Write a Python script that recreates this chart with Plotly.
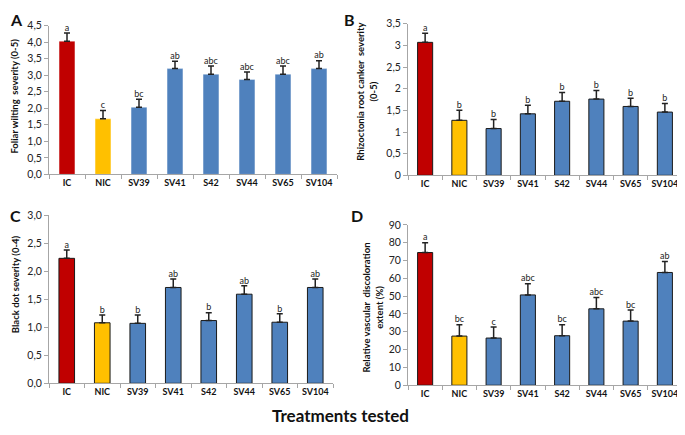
import plotly.graph_objects as go

treatments = ["IC", "NIC", "SV39", "SV41", "S42", "SV44", "SV65", "SV104"]
bar_colors = ["#C00000", "#FFC000"] + ["#4F81BD"] * 6

# A - foliar wilting severity (0-5)
wilt_mean = [4.03, 1.68, 2.03, 3.20, 3.03, 2.87, 3.03, 3.20]
wilt_err = [0.25, 0.25, 0.24, 0.22, 0.25, 0.23, 0.25, 0.24]
wilt_letters = ["a", "c", "bc", "ab", "abc", "abc", "abc", "ab"]

# B - rhizoctonia root canker severity (0-5)
canker_mean = [3.07, 1.27, 1.08, 1.42, 1.71, 1.76, 1.59, 1.46]
canker_err = [0.21, 0.23, 0.21, 0.20, 0.20, 0.20, 0.19, 0.20]
canker_letters = ["a", "b", "b", "b", "b", "b", "b", "b"]

# C - black dot severity (0-4)
dot_mean = [2.23, 1.08, 1.07, 1.71, 1.12, 1.59, 1.09, 1.71]
dot_err = [0.15, 0.14, 0.15, 0.15, 0.14, 0.15, 0.15, 0.15]
dot_letters = ["a", "b", "b", "ab", "b", "ab", "b", "ab"]

# D - relative vascular discoloration extent (%)
vasc_mean = [74.5, 27.6, 26.5, 50.7, 27.8, 42.9, 36.0, 63.3]
vasc_err = [5.5, 6.4, 6.2, 6.3, 6.2, 6.4, 6.2, 6.2]
vasc_letters = ["a", "bc", "c", "abc", "bc", "abc", "bc", "ab"]

FONT = "Lato, Open Sans, sans-serif"
AXIS_GREY = "#A6A6A6"

# the page body has an 8px margin, so the figure is a bit smaller
# and everything is placed in window pixels then converted
OFF = 8
W, H = 685 - OFF, 435 - OFF


def px(x):
    return (x - OFF) / W


def py(y):
    return 1 - (y - OFF) / H


panels = [
    # (means, errs, letters, axis suffix, outline)
    (wilt_mean, wilt_err, wilt_letters, "", "rgba(255,255,255,0.35)"),
    (canker_mean, canker_err, canker_letters, "2", "#1A1A1A"),
    (dot_mean, dot_err, dot_letters, "3", "#1A1A1A"),
    (vasc_mean, vasc_err, vasc_letters, "4", "#1A1A1A"),
]

fig = go.Figure()
for means, errs, letters, ax, outline in panels:
    fig.add_trace(
        go.Bar(
            x=treatments,
            y=means,
            width=0.44,
            marker=dict(color=bar_colors, line=dict(color=outline, width=1)),
            error_y=dict(
                type="data",
                array=errs,
                arrayminus=[0] * len(errs),
                symmetric=False,
                color="#222222",
                thickness=1.5,
                width=3,
            ),
            xaxis="x" + ax,
            yaxis="y" + ax,
            showlegend=False,
        )
    )
    fig.add_trace(
        go.Scatter(
            x=treatments,
            y=[m + e for m, e in zip(means, errs)],
            mode="text",
            text=letters,
            textposition="top center",
            textfont=dict(family=FONT, size=9, color="#222222"),
            xaxis="x" + ax,
            yaxis="y" + ax,
            showlegend=False,
            cliponaxis=False,
        )
    )

xaxis_style = dict(
    type="category",
    showline=True,
    linecolor=AXIS_GREY,
    linewidth=1,
    ticks="outside",
    tickson="boundaries",
    ticklen=4,
    tickcolor=AXIS_GREY,
    tickangle=0,
    tickfont=dict(family=FONT, size=9, color="#111111", weight="bold"),
    showgrid=False,
    zeroline=False,
    fixedrange=True,
)
yaxis_style = dict(
    showline=True,
    linecolor=AXIS_GREY,
    linewidth=1,
    ticks="outside",
    ticklen=4,
    tickcolor=AXIS_GREY,
    tickfont=dict(family=FONT, size=10.5, color="#222222"),
    showgrid=False,
    zeroline=False,
)

fig.update_layout(
    width=W,
    height=H,
    margin=dict(l=0, r=0, t=0, b=0),
    paper_bgcolor="white",
    plot_bgcolor="white",
    separators=",.",
    xaxis=dict(xaxis_style, domain=[px(49), px(337)], anchor="y"),
    yaxis=dict(yaxis_style, domain=[py(173), py(20)], range=[0, 4.5],
               dtick=0.5, tickformat=".1f", anchor="x"),
    xaxis2=dict(xaxis_style, domain=[px(408), px(682)], anchor="y2"),
    yaxis2=dict(yaxis_style, domain=[py(174), py(18)], range=[0, 3.5],
                dtick=0.5, anchor="x2"),
    xaxis3=dict(xaxis_style, domain=[px(49), px(333)], anchor="y3"),
    yaxis3=dict(yaxis_style, domain=[py(388), py(215)], range=[0, 3.0],
                dtick=0.5, tickformat=".1f", anchor="x3"),
    xaxis4=dict(xaxis_style, domain=[px(408), px(682)], anchor="y4"),
    yaxis4=dict(yaxis_style, domain=[py(390), py(225)], range=[0, 90],
                dtick=10, anchor="x4"),
)

# panel letters
for label, x, y in [("A", 8, 2), ("B", 342, 2), ("C", 8, 204), ("D", 349, 203)]:
    fig.add_annotation(
        text=label, x=px(x), y=py(y), xref="paper", yref="paper",
        xanchor="left", yanchor="top", showarrow=False,
        font=dict(family=FONT, size=16, color="#111111", weight="bold"),
    )

# y axis titles
for title, x, y in [
    ("Foliar wilting  severity (0-5)", 15, 93),
    ("Rhizoctonia root canker  severity<br>(0-5)", 367, 88),
    ("Black dot severity (0-4)", 15, 286),
    ("Relative vascular  discoloration<br>extent (%)", 373, 310),
]:
    fig.add_annotation(
        text=title, x=px(x), y=py(y), xref="paper", yref="paper",
        xanchor="center", yanchor="middle", textangle=-90, showarrow=False,
        font=dict(family=FONT, size=9.5, color="#111111", weight="bold"),
    )

fig.add_annotation(
    text="Treatments tested", x=px(340), y=py(421), xref="paper", yref="paper",
    xanchor="center", yanchor="middle", showarrow=False,
    font=dict(family=FONT, size=17, color="#111111", weight="bold"),
)

fig.write_html("out.html")
